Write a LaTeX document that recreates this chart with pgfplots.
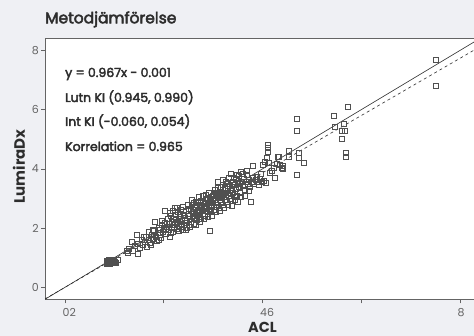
\documentclass[border=0pt]{standalone}
\usepackage{pgfplots}
\pgfplotsset{compat=1.18}
\usepackage{fontspec}
\setmainfont{Poppins}
\newfontfamily\semib{Poppins}[FakeBold=3]
\definecolor{bgc}{RGB}{239,240,244}
\definecolor{axc}{RGB}{100,100,100}
\definecolor{txt}{RGB}{45,45,45}
\definecolor{mk}{RGB}{80,80,80}
\pgfplotstableread{
x y
0.84 0.80
0.86 0.86
0.88 0.82
0.90 0.90
0.87 0.78
0.92 0.85
0.94 0.92
0.89 0.94
0.91 0.80
0.96 0.84
0.85 0.90
0.98 0.88
1.00 0.86
1.02 0.82
1.06 0.92
0.93 0.88
1.26 1.24
1.28 1.15
1.30 1.31
1.35 1.52
1.38 1.22
1.42 1.40
1.45 1.76
1.47 1.14
1.48 1.48
1.52 1.33
1.55 1.62
1.58 1.45
1.62 1.55
1.64 1.70
1.66 1.38
1.69 1.87
1.70 1.60
1.72 1.50
1.75 1.78
1.77 1.64
1.80 1.92
1.82 2.21
1.83 1.72
1.85 1.58
1.87 1.84
1.89 2.02
1.91 1.76
1.93 1.95
1.95 1.68
1.97 2.10
1.99 1.86
2.00 1.99
2.02 2.60
2.03 2.18
2.05 1.80
2.06 2.05
2.08 2.30
2.10 1.93
2.11 2.14
2.13 1.72
2.14 2.40
2.16 2.02
2.17 2.22
2.19 1.88
2.20 2.31
2.22 2.70
2.23 2.10
2.25 2.45
2.26 1.98
2.28 2.20
2.29 2.55
2.31 2.05
2.32 2.33
2.34 2.15
2.35 2.62
2.37 2.26
2.38 1.95
2.40 2.44
2.41 2.12
2.43 2.35
2.44 1.94
2.45 2.58
2.47 2.24
2.48 2.80
2.49 2.40
2.50 2.10
2.51 2.48
2.52 2.30
2.54 2.66
2.55 2.20
2.56 2.95
2.58 2.42
2.59 2.55
2.60 2.15
2.62 2.72
2.63 2.36
2.64 2.88
2.66 2.50
2.67 2.28
2.68 2.63
2.70 3.05
2.71 2.44
2.72 2.78
2.74 2.55
2.75 2.33
2.76 2.92
2.78 2.62
2.79 2.48
2.80 3.10
2.82 2.70
2.83 2.40
2.84 2.85
2.86 2.58
2.87 3.00
2.88 2.66
2.90 2.47
2.91 2.80
2.92 3.20
2.94 2.62
2.95 2.90
2.96 2.55
2.98 2.74
2.99 3.08
3.00 2.85
3.02 2.62
3.03 3.30
3.04 2.96
3.06 2.72
3.07 3.15
3.08 2.80
3.10 3.55
3.11 3.02
3.12 2.68
3.14 3.22
3.15 2.90
3.16 3.40
3.18 3.08
3.19 2.78
3.20 3.62
3.22 3.15
3.23 2.95
3.24 3.35
3.26 3.05
3.27 3.48
3.28 2.88
3.30 3.25
3.31 3.70
3.32 3.10
3.34 3.42
3.35 3.82
3.36 3.00
3.38 3.30
3.39 3.58
3.40 3.18
3.42 3.45
3.43 2.95
3.45 3.66
3.46 3.32
3.48 3.10
3.49 3.52
3.51 3.38
3.53 3.75
3.55 3.20
3.56 3.90
3.58 3.55
3.60 3.42
3.62 3.68
3.64 3.30
3.66 3.58
3.68 3.80
3.70 3.48
3.72 3.62
3.75 3.40
3.76 2.90
3.78 3.55
3.80 3.70
3.81 4.12
3.83 3.50
3.86 3.62
3.88 3.74
3.90 3.58
3.92 3.45
3.95 3.66
3.97 3.85
3.99 3.55
4.01 4.13
4.03 3.60
4.05 4.25
4.07 3.52
4.08 4.36
4.10 4.58
4.11 4.81
4.11 4.71
4.13 4.20
4.15 3.86
4.18 3.95
4.22 4.05
4.25 3.70
4.28 4.18
4.31 4.40
4.34 4.41
4.35 4.13
4.39 4.03
4.41 4.10
4.41 3.99
3.35 3.82
3.56 3.91
2.94 1.90
4.54 4.60
4.54 4.41
4.74 4.53
4.74 4.36
4.83 4.21
4.69 3.79
4.69 5.69
4.69 5.29
5.45 5.80
5.73 6.10
5.46 5.42
5.64 5.51
5.60 5.29
5.66 5.29
5.60 5.00
5.69 4.53
5.69 4.41
7.51 7.70
7.51 6.81
2.12 2.52
2.15 1.85
2.18 2.60
2.21 2.00
2.24 2.28
2.27 2.68
2.30 1.90
2.33 2.48
2.36 2.05
2.39 2.72
2.42 2.25
2.46 2.02
2.50 2.65
2.53 2.05
2.57 2.78
2.61 2.30
2.65 2.10
2.69 2.85
2.73 2.22
2.77 2.75
2.81 2.30
2.85 3.12
2.89 2.38
2.93 2.95
2.97 2.40
3.01 3.12
3.05 2.55
3.09 3.35
3.13 2.60
3.17 3.18
3.21 2.70
3.25 3.55
3.29 2.80
3.33 3.20
3.37 2.75
3.41 3.70
3.44 3.05
3.47 3.80
3.50 2.88
3.54 3.50
3.57 3.05
3.61 3.85
3.65 3.10
3.69 3.95
3.73 3.25
2.60 2.85
2.70 2.60
2.80 2.85
2.90 3.02
3.00 3.00
3.10 3.10
3.20 3.30
3.30 3.42
2.55 2.58
2.65 2.70
2.75 2.90
2.85 2.72
2.95 3.05
3.05 3.20
3.15 3.05
3.25 3.20
1.60 1.72
1.74 1.42
1.78 1.95
1.90 1.62
1.96 2.25
2.04 1.95
}\datatable
\begin{document}
\begin{tikzpicture}
\useasboundingbox (0,0) rectangle (474pt,336pt);
\fill[bgc] (0,0) rectangle (474pt,336pt);
\begin{axis}[
  at={(45pt,36.7pt)}, anchor=south west,
  scale only axis, width=435pt, height=261pt,
  xmin=-0.405, xmax=8.405, ymin=-0.405, ymax=8.41,
  axis background/.style={fill=white},
  axis line style={axc, line width=0.7pt},
  tick style={axc, line width=0.6pt},
  major tick length=4pt,
  tick align=outside, tick pos=left,
  xtick={0,2,4,6,8}, xticklabels={02,,46,,8},
  ytick={0,2,4,6,8},
  /pgf/number format/assume math mode=true,
  ticklabel style={font=\fontsize{11}{11}\selectfont, text=axc, inner sep=0pt},
  xticklabel style={anchor=north west, xshift=-2.5pt, yshift=-4.5pt},
  yticklabel style={anchor=east, xshift=-2pt},
]
\addplot[only marks, mark=square, mark size=2.5pt, mark options={draw=mk, line width=0.6pt, fill=none}] table[x=x, y=y] {\datatable};
\addplot[color=txt, line width=0.6pt] coordinates {(-0.405,-0.405) (8.6,8.6)};
\addplot[color=txt, line width=0.6pt, dash pattern=on 3pt off 3pt] coordinates {(-0.405,-0.3926) (8.6,8.3152)};
\end{axis}
\node[anchor=base west, inner sep=0pt, text=txt, font=\semib\fontsize{15.5}{15.5}\selectfont] at (45pt,312.7pt) {Metodjämförelse};
\node[anchor=base west, inner sep=0pt, text=txt, font=\semib\fontsize{12.5}{12.5}\selectfont] at (65pt,259pt) {y = 0.967x - 0.001};
\node[anchor=base west, inner sep=0pt, text=txt, font=\semib\fontsize{12.5}{12.5}\selectfont] at (65pt,234pt) {Lutn KI (0.945, 0.990)};
\node[anchor=base west, inner sep=0pt, text=txt, font=\semib\fontsize{12.5}{12.5}\selectfont] at (65pt,210pt) {Int KI (-0.060, 0.054)};
\node[anchor=base west, inner sep=0pt, text=txt, font=\semib\fontsize{12.5}{12.5}\selectfont] at (65pt,185pt) {Korrelation = 0.965};
\node[rotate=90, inner sep=0pt, text=txt, font=\bfseries\fontsize{15}{15}\selectfont] at (19pt,169.5pt) {LumiraDx};
\node[anchor=south, inner sep=0pt, text=txt, font=\bfseries\fontsize{14.5}{14.5}\selectfont] at (262.5pt,3.5pt) {ACL};
\end{tikzpicture}
\end{document}
